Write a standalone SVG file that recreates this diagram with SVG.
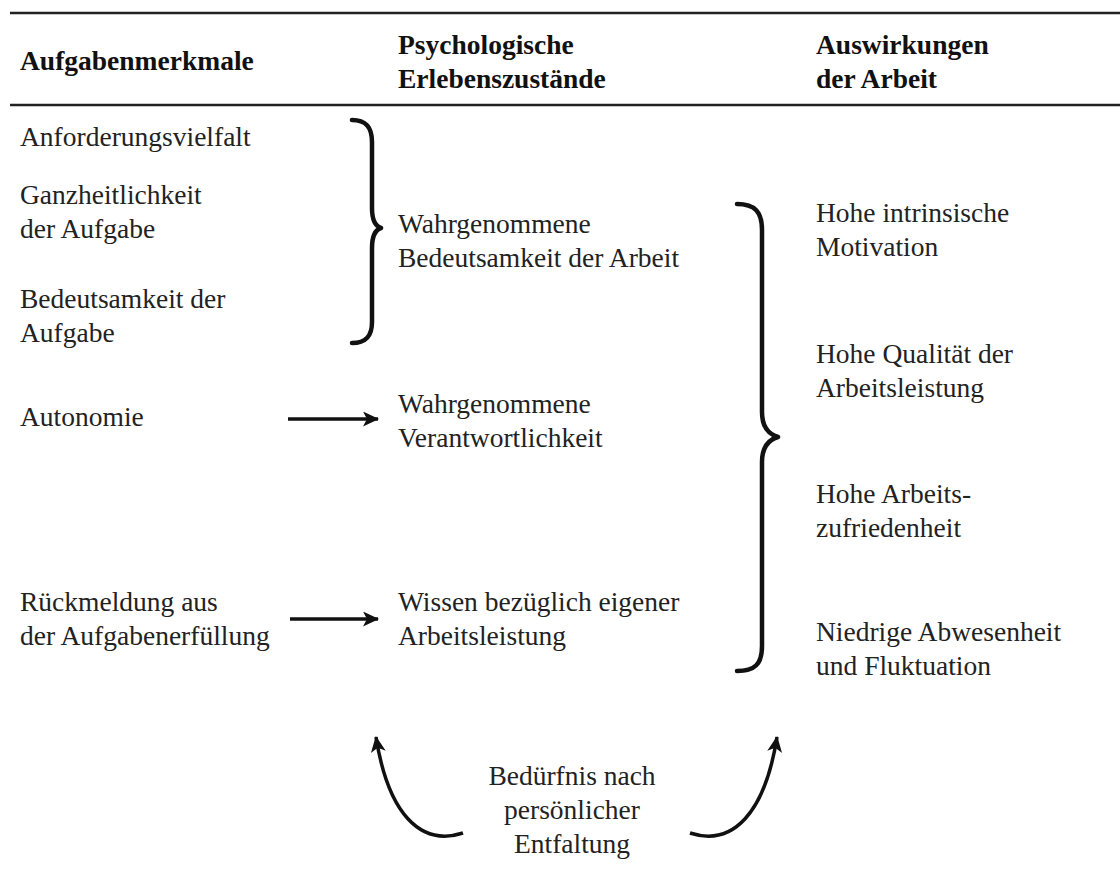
<svg xmlns="http://www.w3.org/2000/svg" width="1120" height="888" viewBox="0 0 1120 888">
  <style>
    .hd { font-family: "Liberation Serif", "Times New Roman", serif; font-weight: bold; font-size: 27.5px; fill: #111; }
    .tx { font-family: "Liberation Serif", "Times New Roman", serif; font-size: 27.5px; fill: #222; }
    .ct { text-anchor: middle; }
    .rule { stroke: #222; stroke-width: 2.5; }
    .brace { fill: none; stroke: #111; stroke-width: 4.5; stroke-linecap: round; stroke-linejoin: round; }
    .arrow { fill: none; stroke: #111; stroke-width: 3.5; }
  </style>
  <defs>
    <marker id="head" viewBox="0 0 16 15" refX="15" refY="7.5" markerWidth="16" markerHeight="15" markerUnits="userSpaceOnUse" orient="auto">
      <path d="M0,0 L16,7.5 L0,15 L4,7.5 Z" fill="#111"/>
    </marker>
  </defs>
  <rect width="1120" height="888" fill="#fff"/>

  <!-- table header -->
  <g id="header">
    <line class="rule" x1="10" y1="13" x2="1120" y2="13"/>
    <line class="rule" x1="10" y1="105" x2="1120" y2="105"/>
    <text class="hd" x="20" y="70">Aufgabenmerkmale</text>
    <text class="hd" x="398" y="54">Psychologische</text>
    <text class="hd" x="398" y="88">Erlebenszustände</text>
    <text class="hd" x="816" y="54">Auswirkungen</text>
    <text class="hd" x="816" y="88">der Arbeit</text>
  </g>

  <!-- task characteristics -->
  <g id="n-anforderungsvielfalt"><text class="tx" x="20" y="146">Anforderungsvielfalt</text></g>
  <g id="n-ganzheitlichkeit">
    <text class="tx" x="20" y="204">Ganzheitlichkeit</text>
    <text class="tx" x="20" y="238">der Aufgabe</text>
  </g>
  <g id="n-bedeutsamkeit-aufgabe">
    <text class="tx" x="20" y="308">Bedeutsamkeit der</text>
    <text class="tx" x="20" y="342">Aufgabe</text>
  </g>
  <g id="n-autonomie"><text class="tx" x="20" y="426">Autonomie</text></g>
  <g id="n-rueckmeldung">
    <text class="tx" x="20" y="611">Rückmeldung aus</text>
    <text class="tx" x="20" y="645">der Aufgabenerfüllung</text>
  </g>

  <!-- psychological states -->
  <g id="n-bedeutsamkeit-arbeit">
    <text class="tx" x="398" y="233">Wahrgenommene</text>
    <text class="tx" x="398" y="267">Bedeutsamkeit der Arbeit</text>
  </g>
  <g id="n-verantwortlichkeit">
    <text class="tx" x="398" y="413">Wahrgenommene</text>
    <text class="tx" x="398" y="447">Verantwortlichkeit</text>
  </g>
  <g id="n-wissen">
    <text class="tx" x="398" y="611">Wissen bezüglich eigener</text>
    <text class="tx" x="398" y="645">Arbeitsleistung</text>
  </g>

  <!-- outcomes -->
  <g id="n-motivation">
    <text class="tx" x="816" y="222">Hohe intrinsische</text>
    <text class="tx" x="816" y="256">Motivation</text>
  </g>
  <g id="n-qualitaet">
    <text class="tx" x="816" y="363">Hohe Qualität der</text>
    <text class="tx" x="816" y="397">Arbeitsleistung</text>
  </g>
  <g id="n-zufriedenheit">
    <text class="tx" x="816" y="503">Hohe Arbeits-</text>
    <text class="tx" x="816" y="537">zufriedenheit</text>
  </g>
  <g id="n-abwesenheit">
    <text class="tx" x="816" y="641">Niedrige Abwesenheit</text>
    <text class="tx" x="816" y="675">und Fluktuation</text>
  </g>

  <!-- moderator -->
  <g id="n-entfaltung">
    <text class="tx ct" x="572" y="785">Bedürfnis nach</text>
    <text class="tx ct" x="572" y="819">persönlicher</text>
    <text class="tx ct" x="572" y="853">Entfaltung</text>
  </g>

  <!-- connectors -->
  <g id="connectors">
    <path class="brace" d="M352,120 C366,120 372,127 372,142 L372,208 C372,220 375,226 381,228 C375,230 372,236 372,248 L372,322 C372,336 366,343 352,343"/>
    <path class="brace" d="M737,204 C755,204 762,212 762,230 L762,412 C762,426 768,434 778,437 C768,440 762,448 762,462 L762,646 C762,664 755,671 737,671"/>
    <line class="arrow" x1="288" y1="419" x2="378" y2="419" marker-end="url(#head)"/>
    <line class="arrow" x1="290" y1="619" x2="378" y2="619" marker-end="url(#head)"/>
    <path class="arrow" d="M463,833 C420,847 388,813 376,737" marker-end="url(#head)"/>
    <path class="arrow" d="M690,833 C733,847 765,813 777,737" marker-end="url(#head)"/>
  </g>
</svg>
